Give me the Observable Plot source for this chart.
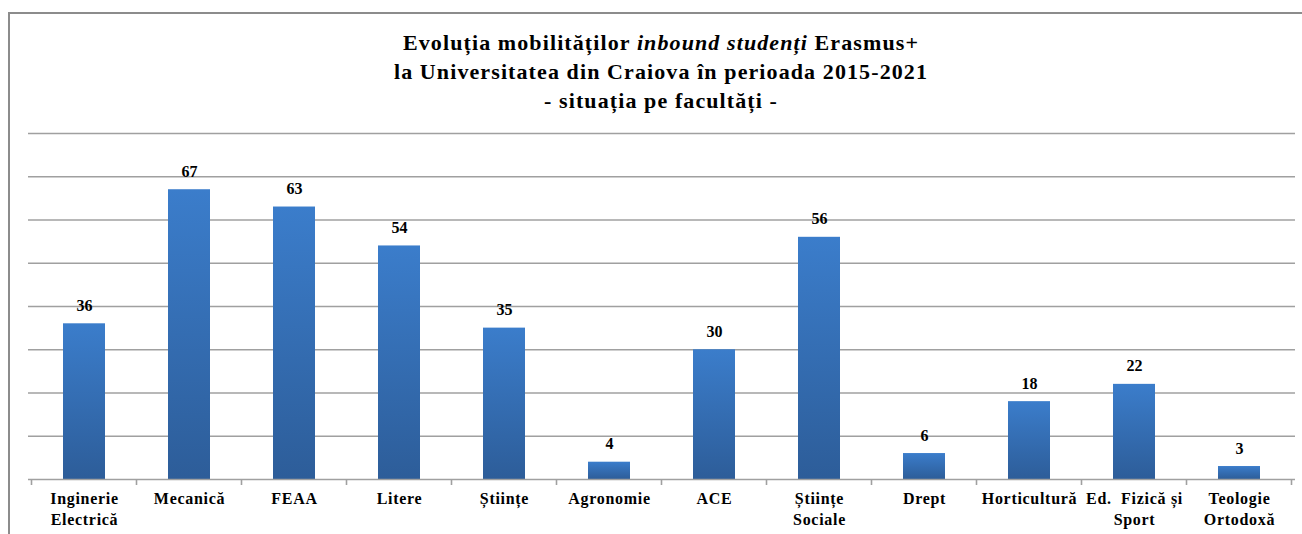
<!DOCTYPE html>
<html>
<head>
<meta charset="utf-8">
<script src="https://cdn.jsdelivr.net/npm/d3@7"></script>
<script src="https://cdn.jsdelivr.net/npm/@observablehq/plot@0.6"></script>
<style>
  html, body { margin: 0; padding: 0; background: #fff; }
  body { width: 1302px; height: 534px; overflow: hidden; position: relative; font-family: "Times New Roman", "Liberation Serif", "DejaVu Serif", serif; }
  #frame { position: absolute; left: 8px; top: 12px; width: 1300px; height: 530px; border-top: 2px solid #8c8c8c; border-left: 2px solid #8c8c8c; }
  #title { position: absolute; left: 0; top: 28px; width: 1322px; text-align: center; font-weight: bold; font-size: 22px; letter-spacing: 1.1px; line-height: 29px; color: #000; }
  #chart { position: absolute; left: 0; top: 115px; }
  #chart svg text { font-family: "Times New Roman", "Liberation Serif", "DejaVu Serif", serif; }
  #chart svg g[aria-label="x-axis tick label"] text { letter-spacing: 0.7px; }
</style>
</head>
<body>
<div id="frame"></div>
<div id="title">Evoluția mobilităților <i>inbound studenți</i> Erasmus+<br>la Universitatea din Craiova în perioada 2015-2021<br>- situația pe facultăți -</div>
<div id="chart"></div>
<script>
const categories = ["Inginerie\nElectrică", "Mecanică", "FEAA", "Litere", "Științe", "Agronomie", "ACE", "Științe\nSociale", "Drept", "Horticultură", "Ed.  Fizică și\nSport", "Teologie\nOrtodoxă"];
const values = [36, 67, 63, 54, 35, 4, 30, 56, 6, 18, 22, 3];
const gridValues = [10, 20, 30, 40, 50, 60, 70, 80];

const data = categories.map((c, i) => ({cat: c, v: values[i]}));

const plot = Plot.plot({
  width: 1302,
  height: 419,
  marginLeft: 28,
  marginRight: 7,
  marginTop: 18,
  marginBottom: 55,
  style: {fontFamily: "'Times New Roman', 'Liberation Serif', serif", background: "transparent"},
  x: {domain: categories, paddingInner: 0.6, paddingOuter: 0.3, label: null},
  y: {domain: [0, 80], axis: null},
  marks: [
    Plot.ruleY(gridValues, {stroke: "#a0a0a0", strokeWidth: 1.6}),
    Plot.barY(data, {x: "cat", y: "v", fill: "url(#barGrad)"}),
    Plot.ruleY([0], {stroke: "#a0a0a0", strokeWidth: 1.6}),
    Plot.text(data, {x: "cat", y: "v", text: d => String(d.v), dy: -13, lineAnchor: "bottom", fontWeight: "bold", fontSize: 16, fill: "#000"}),
    Plot.axisX({tickSize: 0, tickPadding: 9, fontSize: 16, fontWeight: "bold", lineHeight: 1.35, lineAnchor: "top", fill: "#000"})
  ]
});

// gradient for bars
const svg = d3.select(plot);
const defs = svg.insert("defs", ":first-child");
const grad = defs.append("linearGradient").attr("id", "barGrad").attr("x1", 0).attr("y1", 0).attr("x2", 0).attr("y2", 1);
grad.append("stop").attr("offset", "0%").attr("stop-color", "#3b7dcb");
grad.append("stop").attr("offset", "100%").attr("stop-color", "#2d5d99");

// tick marks at category boundaries, from the library's scales
const xs = plot.scale("x");
const ys = plot.scale("y");
const y0 = ys.apply(0);
const step = xs.step;
const bounds = categories.map(c => xs.apply(c) - (step - xs.bandwidth) / 2);
bounds.push(bounds[bounds.length - 1] + step);
svg.append("g").selectAll("line").data(bounds).join("line")
  .attr("x1", d => d).attr("x2", d => d)
  .attr("y1", y0).attr("y2", y0 + 6)
  .attr("stroke", "#a0a0a0").attr("stroke-width", 1.6);

document.getElementById("chart").appendChild(plot);
</script>
</body>
</html>
